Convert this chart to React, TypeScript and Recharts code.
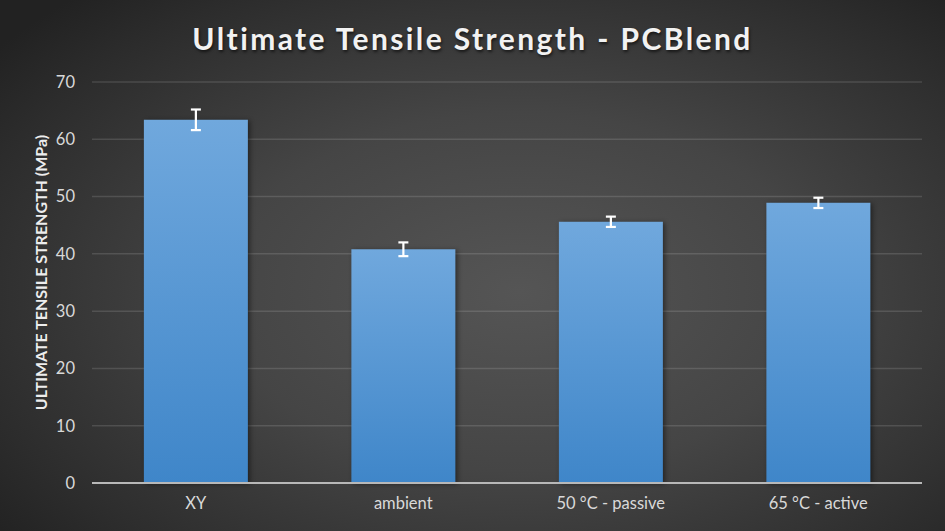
import {
  Bar,
  BarChart,
  CartesianGrid,
  ErrorBar,
  XAxis,
  YAxis,
} from "recharts";

const categories = ["XY", "ambient", "50 °C - passive", "65 °C - active"];
const strength = [63.4, 40.8, 45.6, 48.9];
const strengthErr = [1.8, 1.2, 0.9, 0.9];
const yTicks = [0, 10, 20, 30, 40, 50, 60, 70];

const data = categories.map((name, i) => ({
  name,
  uts: strength[i],
  err: strengthErr[i],
}));

const FONT = "Lato, 'Open Sans', sans-serif";
const TICK = "#d9d9d9";

function AxisTitle(props: any) {
  const vb = props.viewBox || {};
  const cx = vb.x + 8;
  const cy = vb.y + vb.height / 2 - 10;
  return (
    <text
      x={cx}
      y={cy}
      transform={`rotate(-90, ${cx}, ${cy})`}
      textAnchor="middle"
      dominantBaseline="central"
      fill="#ededed"
      fontSize={16}
      fontWeight={700}
      fontFamily={FONT}
    >
      ULTIMATE TENSILE STRENGTH (MPa)
    </text>
  );
}

export default function App() {
  return (
    <div
      style={{
        position: "absolute",
        top: 0,
        left: 0,
        width: 945,
        height: 531,
        background:
          "radial-gradient(ellipse 70% 75% at 55% 55%, #555555 0%, #454545 45%, #2c2c2c 85%, #222222 100%)",
        fontFamily: FONT,
        overflow: "hidden",
      }}
    >
      {/* gradient used by the bars */}
      <svg width={0} height={0} style={{ position: "absolute" }}>
        <defs>
          <linearGradient id="barFill" x1="0" y1="0" x2="0" y2="1">
            <stop offset="0%" stopColor="#70a8dd" />
            <stop offset="100%" stopColor="#3f86c9" />
          </linearGradient>
        </defs>
      </svg>

      {/* Title */}
      <div
        style={{
          position: "absolute",
          top: 14,
          left: 0,
          width: 945,
          height: 48,
          lineHeight: "48px",
          textAlign: "center",
          color: "#f2f2f2",
          fontSize: 30,
          fontWeight: 700,
          letterSpacing: 2.4,
          textShadow: "1px 2px 3px rgba(0,0,0,0.6)",
        }}
      >
        Ultimate Tensile Strength - PCBlend
      </div>

      <BarChart
        width={945}
        height={531}
        data={data}
        margin={{ top: 82, right: 23, left: 32, bottom: 18 }}
        barCategoryGap="25%"
      >
        <CartesianGrid
          vertical={false}
          stroke="rgba(255,255,255,0.13)"
          strokeWidth={1.5}
        />
        <XAxis
          dataKey="name"
          height={30}
          tickSize={0}
          tickMargin={14}
          axisLine={{ stroke: "#b8b8b8", strokeWidth: 2 }}
          tick={{ fontSize: 16.5, fill: TICK, fontFamily: FONT }}
        />
        <YAxis
          width={60}
          domain={[0, 70]}
          ticks={yTicks}
          tickSize={0}
          tickMargin={17}
          axisLine={false}
          tickLine={false}
          tick={{ fontSize: 16.5, fill: TICK, fontFamily: FONT }}
          label={<AxisTitle />}
        />
        <Bar
          dataKey="uts"
          fill="url(#barFill)"
          style={{ filter: "drop-shadow(2px 1px 2.5px rgba(0,0,0,0.45))" }}
          isAnimationActive={false}
        >
          <ErrorBar
            dataKey="err"
            direction="y"
            width={5}
            stroke="#ffffff"
            strokeWidth={2.2}
          />
        </Bar>
      </BarChart>
    </div>
  );
}
